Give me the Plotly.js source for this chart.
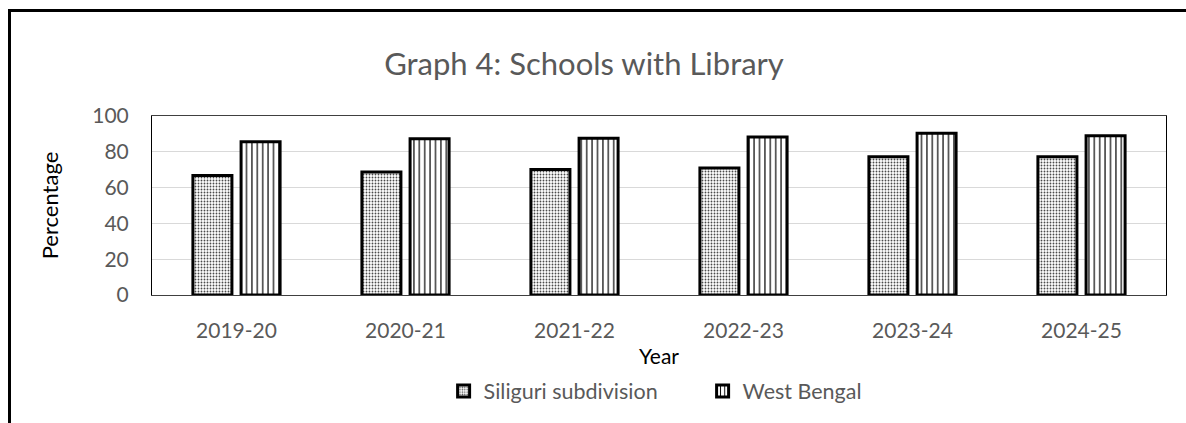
<!DOCTYPE html>
<html>
<head>
<meta charset="utf-8">
<script src="https://cdn.plot.ly/plotly-3.0.1.min.js"></script>
<style>
  html, body { margin: 0; padding: 0; background: #ffffff; overflow: hidden; }
  #chart { width: 1186px; height: 423px; }
  #frame { position: absolute; left: 8px; top: 9px; width: 1300px; height: 500px;
           border-top: 3px solid #000; border-left: 3px solid #000; pointer-events: none; }
</style>
</head>
<body>
<div id="chart"></div>
<div id="frame"></div>
<script>
const years = ["2019-20", "2020-21", "2021-22", "2022-23", "2023-24", "2024-25"];
const siliguri = [66.8, 68.7, 70.1, 71.0, 77.2, 77.2];
const westBengal = [85.6, 87.3, 87.6, 88.3, 90.3, 88.9];
const seriesNames = ["Siliguri subdivision", "West Bengal"];
const yTicks = [0, 20, 40, 60, 80, 100];

const FONT = "Lato, 'Open Sans', sans-serif";

const traces = [
  {
    type: "bar", name: seriesNames[0], x: years, y: siliguri,
    marker: {
      color: "#ffffff",
      line: { color: "#000000", width: 3 },
      pattern: { shape: ".", size: 3, solidity: 0.3, fgcolor: "#4a4a4a", bgcolor: "#ffffff", fillmode: "replace" }
    },
    hoverinfo: "x+y"
  },
  {
    type: "bar", name: seriesNames[1], x: years, y: westBengal,
    marker: {
      color: "#ffffff",
      line: { color: "#000000", width: 3 },
      pattern: { shape: "|", size: 5.4, solidity: 0.22, fgcolor: "#000000", bgcolor: "#ffffff", fillmode: "replace" }
    },
    hoverinfo: "x+y"
  }
];

const layout = {
  width: 1186, height: 423,
  margin: { l: 152, r: 20, t: 116, b: 124 },
  paper_bgcolor: "rgba(0,0,0,0)",
  plot_bgcolor: "#ffffff",
  font: { family: FONT, color: "#595959", size: 21 },
  title: {
    text: "Graph 4: Schools with Library",
    font: { family: FONT, size: 31, color: "#595959" },
    xref: "container", yref: "container",
    x: 584 / 1186, xanchor: "center",
    y: 1 - 64 / 423, yanchor: "middle"
  },
  barmode: "group",
  bargap: 0.43,
  bargroupgap: 0.19,
  xaxis: {
    type: "category",
    showline: true, linecolor: "#404040", linewidth: 1, mirror: true,
    showgrid: false, ticks: "", zeroline: false,
    tickfont: { family: FONT, size: 21, color: "#595959" },
    ticklabelstandoff: 17,
    title: { text: "Year", font: { family: FONT, size: 21, color: "#000000" }, standoff: 8 },
    automargin: false
  },
  yaxis: {
    range: [0, 100],
    tickvals: yTicks,
    ticktext: yTicks.map(String),
    showline: true, linecolor: "#000000", linewidth: 1, mirror: true,
    showgrid: true, gridcolor: "#d9d9d9", gridwidth: 1,
    zeroline: false, ticks: "",
    tickfont: { family: FONT, size: 21, color: "#595959" },
    ticklabelstandoff: 18,
    title: { text: "Percentage", font: { family: FONT, size: 22, color: "#000000" }, standoff: 27 },
    automargin: false
  },
  legend: {
    orientation: "h",
    x: 0.543, xanchor: "center",
    y: -0.536, yanchor: "middle",
    font: { family: FONT, size: 21.5, color: "#595959" },
    itemwidth: 30,
    entrywidth: 214, entrywidthmode: "pixels",
    bgcolor: "rgba(0,0,0,0)"
  },
  showlegend: true
};

Plotly.newPlot("chart", traces, layout, { displayModeBar: false, staticPlot: true });
</script>
</body>
</html>
